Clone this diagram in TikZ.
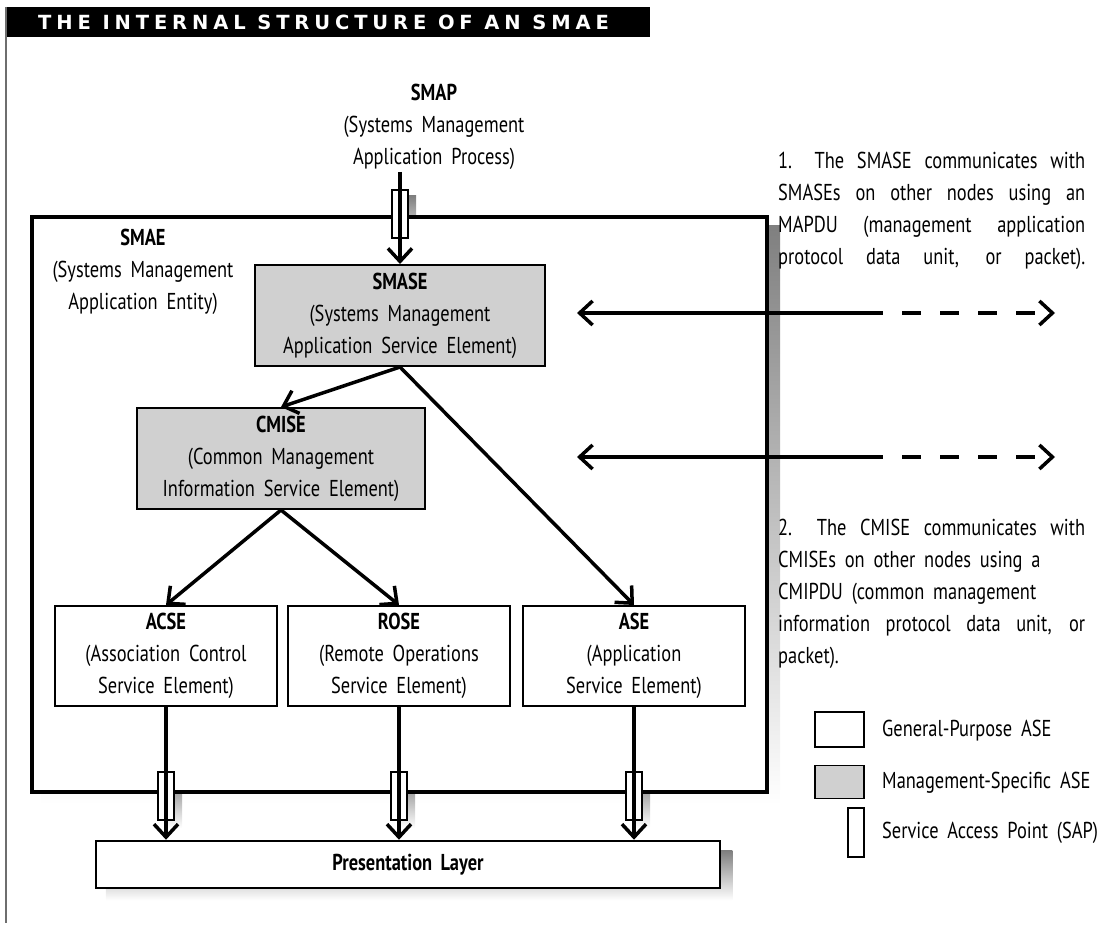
\documentclass[tikz,border=0pt]{standalone}
\usepackage{fontspec}
\setmainfont{PT Sans}[FakeStretch=0.8, WordSpace=1.8]
\newfontfamily\titlefont{DejaVu Sans}[LetterSpace=25]
\usetikzlibrary{arrows.meta}
\definecolor{shade}{RGB}{200,200,200}
\definecolor{fillg}{RGB}{208,208,208}
\definecolor{rule}{RGB}{110,110,110}
\newcommand\bodyfnt{\fontsize{23}{32}\selectfont}
\newcommand\jline[1]{\makebox[307pt][s]{#1}}
\pgfdeclarelayer{bg}
\pgfsetlayers{bg,main}
\begin{document}
\begin{tikzpicture}[x=1pt,y=-1pt,
  box/.style={draw=black, line width=2pt, fill=white, minimum width=222pt, minimum height=100pt, inner sep=0pt, align=center, font=\bodyfnt},
  graybox/.style={box, fill=fillg},
  frame/.style={draw=black, line width=4pt, fill=white},
  conn/.style={line width=3.5pt, -{Straight Barb[length=13pt,width=24pt]}},
  biconn/.style={line width=3.5pt},
  dashpart/.style={line width=3.5pt, dash pattern=on 19pt off 19pt, dash phase=19pt},
  sap/.style={draw=black, line width=2pt, fill=white, minimum width=16pt, minimum height=48pt, inner sep=0pt},
  txt/.style={inner sep=0pt, font=\bodyfnt},
  tip/.tip={Straight Barb[length=13pt,width=24pt]}]
\useasboundingbox (0,0) rectangle (1117,925);
% title bar
\fill[black] (6,7) rectangle (650,37);
\draw[rule, line width=1.5pt] (6,7) -- (6,923);
\node[anchor=west, text=white, inner sep=0pt, font=\titlefont\bfseries\fontsize{19.5}{19.5}\selectfont] (title) at (38,22.5) {THE INTERNAL STRUCTURE OF AN SMAE};

% SMAE frame
\node[frame, minimum width=735pt, minimum height=575pt] (smae) at (399.5,504.5) {};
\node[txt, align=center] (smaelabel) at (143,272) {\textbf{SMAE}\\(Systems Management\\Application Entity)};

% SMAP
\node[txt, align=center] (smap) at (434,127) {\textbf{SMAP}\\(Systems Management\\Application Process)};
\coordinate (smapout) at (400,172);

% boxes
\node[graybox, minimum width=290pt, minimum height=101pt] (smase) at (400,315.5) {\textbf{SMASE}\\(Systems Management\\Application Service Element)};
\node[graybox, minimum width=288pt, minimum height=101pt] (cmise) at (281,458.5) {\textbf{CMISE}\\(Common Management\\Information Service Element)};
\node[box] (acse) at (166,656) {\textbf{ACSE}\\(Association Control\\Service Element)};
\node[box] (rose) at (399,656) {\textbf{ROSE}\\(Remote Operations\\Service Element)};
\node[box] (ase) at (634,656) {\textbf{ASE}\\(Application\\Service Element)};

% presentation layer
\node[box, line width=2.5pt, minimum width=624pt, minimum height=47pt, font=\bodyfnt\bfseries] (pres) at (408,864.5) {Presentation Layer};

% SAPs
\node[sap] (sapt) at (400,214) {};
\node[sap] (sapa) at (166,796) {};
\node[sap] (sapr) at (399,796) {};
\node[sap] (sapo) at (634,796) {};

% shadows
\begin{pgfonlayer}{bg}
\foreach \n in {smae,pres}{
  \fill[shade] ([xshift=11pt,yshift=-11pt]\n.north west) rectangle ([xshift=11pt,yshift=-11pt]\n.south east);
}
\foreach \n in {sapt,sapa,sapr,sapo}{
  \fill[shade] ([xshift=7pt,yshift=-7pt]\n.north west) rectangle ([xshift=7pt,yshift=-7pt]\n.south east);
}
\end{pgfonlayer}

% connectors
\draw[conn] (smapout) -- (smase.north);
\draw[conn] (smase.south) -- (cmise.north);
\draw[conn] (smase.south) -- (ase.north);
\draw[conn] (cmise.south) -- (acse.north);
\draw[conn] (cmise.south) -- (rose.north);
\draw[conn] (acse.south) -- (acse.south |- pres.north);
\draw[conn] (rose.south) -- (rose.south |- pres.north);
\draw[conn] (ase.south) -- (ase.south |- pres.north);

% peer communication arrows
\coordinate (p1l) at (577,313);
\coordinate (p1m) at (883,313);
\coordinate (p1r) at (1055,313);
\coordinate (p2l) at (577,457);
\coordinate (p2m) at (883,457);
\coordinate (p2r) at (1055,457);
\draw[biconn, tip-] (p1l) -- (p1m);
\draw[dashpart, -tip] (p1m) -- (p1r);
\draw[biconn, tip-] (p2l) -- (p2m);
\draw[dashpart, -tip] (p2m) -- (p2r);

% notes
\node[txt, anchor=north west, align=left] (note1) at (778,151.5) {\jline{1. The SMASE communicates with}\\\jline{SMASEs on other nodes using an}\\\jline{MAPDU (management application}\\\jline{protocol data unit, or packet).}};
\node[txt, anchor=north west, align=left] (note2) at (778,518.5) {\jline{2. The CMISE communicates with}\\CMISEs on other nodes using a\\CMIPDU (common management\\\jline{information protocol data unit, or}\\packet).};

% legend
\node[box, line width=1.5pt, minimum width=49pt, minimum height=35pt] (lg1) at (839.5,729.5) {};
\node[graybox, line width=1.5pt, minimum width=49pt, minimum height=33pt] (lg2) at (839.5,782) {};
\node[sap, line width=1.5pt, minimum height=49pt] (lg3) at (856,832.5) {};
\node[txt, anchor=west] (lt1) at (882,731) {General-Purpose ASE};
\node[txt, anchor=west] (lt2) at (882,783) {Management-Specific ASE};
\node[txt, anchor=west] (lt3) at (882,833) {Service Access Point (SAP)};
\end{tikzpicture}
\end{document}
